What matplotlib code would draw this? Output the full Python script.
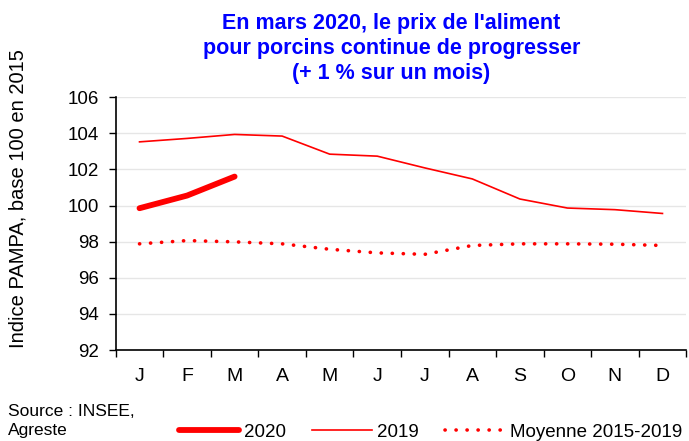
import matplotlib.pyplot as plt
import numpy as np

plt.rcParams['font.family'] = ['Liberation Sans', 'DejaVu Sans']

months = ['J', 'F', 'M', 'A', 'M', 'J', 'J', 'A', 'S', 'O', 'N', 'D']
val_2020 = [99.85, 100.55, 101.6]
val_2019 = [103.52, 103.71, 103.93, 103.84, 102.84, 102.73, 102.08, 101.47, 100.36, 99.86, 99.77, 99.56]
val_moy = [97.88, 98.06, 97.99, 97.88, 97.58, 97.38, 97.30, 97.79, 97.88, 97.88, 97.86, 97.79]
y_ticks = [92, 94, 96, 98, 100, 102, 104, 106]

fig = plt.figure(figsize=(6.89, 4.41), dpi=100)
ax = fig.add_axes([0.168, 0.206, 0.828, 0.574])

x = np.arange(len(months))
red = '#ff0000'
ax.plot(x[:len(val_2020)], val_2020, color=red, lw=4.2, solid_capstyle='round', label='2020')
ax.plot(x, val_2019, color=red, lw=1.2, label='2019')
ax.plot(x, val_moy, color=red, lw=2.6, linestyle=(0, (0.05, 3.0)),
        dash_capstyle='round', label='Moyenne 2015-2019')

ax.set_xlim(-0.5, 11.5)
ax.set_ylim(92, 106)
ax.set_yticks(y_ticks)
ax.yaxis.grid(True, color='#e6e6e6', lw=1)
ax.set_axisbelow(True)

# tick marks between months, labels centred on months
ax.set_xticks(np.arange(-0.5, 12, 1))
ax.set_xticklabels([])
ax.set_xticks(x, minor=True)
ax.set_xticklabels(months, minor=True)
ax.tick_params(axis='x', which='major', length=5, direction='out', width=1)
ax.tick_params(axis='x', which='minor', length=0, labelsize=14, pad=13)
ax.tick_params(axis='y', length=5, direction='out', width=1, labelsize=13.5, pad=7)

for s in ['top', 'right']:
    ax.spines[s].set_visible(False)
for s in ['left', 'bottom']:
    ax.spines[s].set_linewidth(1.2)

ax.set_ylabel('Indice PAMPA, base 100 en 2015', fontsize=14.5)
ax.yaxis.set_label_coords(-0.155, 0.6)

fig.text(0.568, 0.97, "En mars 2020, le prix de l'aliment\npour porcins continue de progresser\n(+ 1 % sur un mois)",
         ha='center', va='top', color='#0000ff', fontsize=15.5, fontweight='bold', linespacing=1.25)

fig.text(0.012, 0.045, 'Source : INSEE,\nAgreste', ha='left', va='center', fontsize=12.5, linespacing=1.3)

fig.legend(loc='center', bbox_to_anchor=(0.625, 0.02), ncol=3, frameon=False,
           fontsize=13.5, handlelength=3.2, handletextpad=0.25, columnspacing=1.4)

fig.savefig('out.png', dpi=100)
